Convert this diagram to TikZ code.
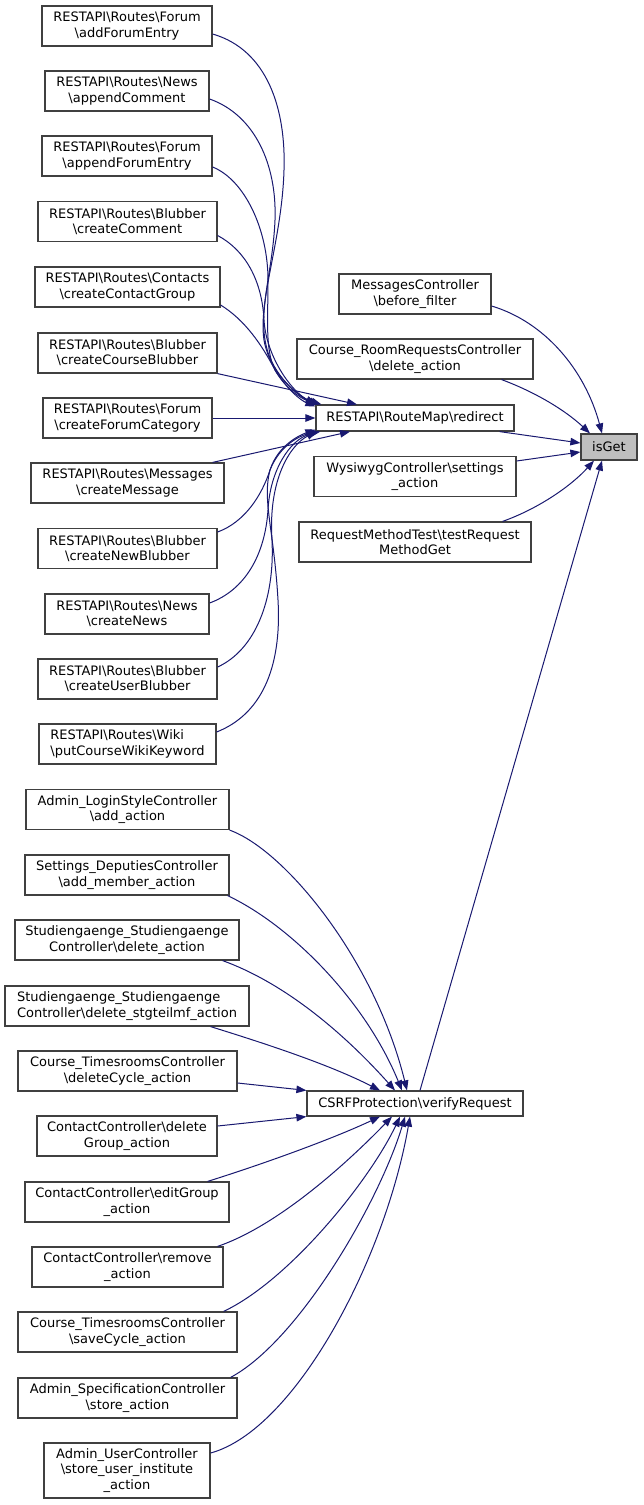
\documentclass[tikz,border=0pt]{standalone}
\usepackage{fontspec}
\setmainfont{DejaVu Sans}
\usetikzlibrary{arrows.meta}
\definecolor{edgeblue}{HTML}{191970}
\definecolor{boxgray}{HTML}{404040}
\definecolor{focusfill}{HTML}{BFBFBF}
\newcommand{\Bsl}{\textbackslash{}}
\tikzset{
  box/.style={draw=boxgray, line width=1.2pt, fill=white, inner sep=0pt, align=center,
    minimum height=40pt, font=\fontsize{13}{15.3}\selectfont},
  lbox/.style={box, align=left},
  sbox/.style={box, minimum height=26pt},
  edge/.style={draw=edgeblue, line width=1pt, -{Triangle[length=10pt,width=7.5pt]}, fill=none}
}
\begin{document}
\begin{tikzpicture}[x=1pt,y=-1pt]
\useasboundingbox[fill=white] (0,0) rectangle (643,1505);
% left group
\node[box, minimum width=170pt] (a1) at (127,26) {RESTAPI\Bsl Routes\Bsl Forum\\\Bsl addForumEntry};
\node[box, minimum width=164pt] (a2) at (127,91) {RESTAPI\Bsl Routes\Bsl News\\\Bsl appendComment};
\node[box, minimum width=170pt] (a3) at (127,156) {RESTAPI\Bsl Routes\Bsl Forum\\\Bsl appendForumEntry};
\node[box, minimum width=179pt] (a4) at (127.5,221.5) {RESTAPI\Bsl Routes\Bsl Blubber\\\Bsl createComment};
\node[box, minimum width=185pt] (a5) at (127.5,287) {RESTAPI\Bsl Routes\Bsl Contacts\\\Bsl createContactGroup};
\node[box, minimum width=179pt] (a6) at (127.5,353) {RESTAPI\Bsl Routes\Bsl Blubber\\\Bsl createCourseBlubber};
\node[box, minimum width=169pt] (a7) at (127.5,418) {RESTAPI\Bsl Routes\Bsl Forum\\\Bsl createForumCategory};
\node[box, minimum width=193pt] (a8) at (127.5,483) {RESTAPI\Bsl Routes\Bsl Messages\\\Bsl createMessage};
\node[box, minimum width=179pt] (a9) at (127.5,548.5) {RESTAPI\Bsl Routes\Bsl Blubber\\\Bsl createNewBlubber};
\node[box, minimum width=164pt] (a10) at (127,614) {RESTAPI\Bsl Routes\Bsl News\\\Bsl createNews};
\node[box, minimum width=179pt] (a11) at (127.5,679) {RESTAPI\Bsl Routes\Bsl Blubber\\\Bsl createUserBlubber};
\node[lbox, minimum width=177pt] (a12) at (127.5,744) {RESTAPI\Bsl Routes\Bsl Wiki\\\Bsl putCourseWikiKeyword};
% middle
\node[box, minimum width=152pt] (m1) at (415,294) {MessagesController\\\Bsl before\_filter};
\node[box, minimum width=236pt] (m2) at (415,359) {Course\_RoomRequestsController\\\Bsl delete\_action};
\node[sbox, minimum width=198pt] (redirect) at (415,418) {RESTAPI\Bsl RouteMap\Bsl redirect};
\node[box, minimum width=202pt] (m3) at (415,476.5) {WysiwygController\Bsl settings\\\_action};
\node[box, minimum width=232pt] (m4) at (415,542) {RequestMethodTest\Bsl testRequest\\MethodGet};
\node[sbox, minimum width=56pt, fill=focusfill] (isGet) at (609,447) {isGet};
% lower
\node[box, minimum width=203pt] (b1) at (127.5,809.5) {Admin\_LoginStyleController\\\Bsl add\_action};
\node[box, minimum width=204pt] (b2) at (127,875) {Settings\_DeputiesController\\\Bsl add\_member\_action};
\node[box, minimum width=224pt] (b3) at (127,940) {Studiengaenge\_Studiengaenge\\Controller\Bsl delete\_action};
\node[lbox, minimum width=244pt] (b4) at (127,1006) {Studiengaenge\_Studiengaenge\\Controller\Bsl delete\_stgteilmf\_action};
\node[box, minimum width=219pt] (b5) at (127.5,1071) {Course\_TimesroomsController\\\Bsl deleteCycle\_action};
\node[box, minimum width=180pt] (b6) at (127,1136) {ContactController\Bsl delete\\Group\_action};
\node[box, minimum width=204pt] (b7) at (127,1202) {ContactController\Bsl editGroup\\\_action};
\node[box, minimum width=191pt] (b8) at (127.5,1267) {ContactController\Bsl remove\\\_action};
\node[box, minimum width=219pt] (b9) at (127.5,1332) {Course\_TimesroomsController\\\Bsl saveCycle\_action};
\node[box, minimum width=219pt] (b10) at (127.5,1398) {Admin\_SpecificationController\\\Bsl store\_action};
\node[box, minimum width=166pt, minimum height=55pt] (b11) at (127,1470.5) {Admin\_UserController\\\Bsl store\_user\_institute\\\_action};
\node[sbox, minimum width=216pt, minimum height=25pt] (csrf) at (415,1103.5) {CSRFProtection\Bsl verifyRequest};
% edges to isGet
\draw[edge] ([yshift=-12pt]m1.east) .. controls (545,322) and (585,370) .. ([xshift=-7pt]isGet.north);
\draw[edge] ([xshift=-32pt]m2.south east) .. controls (535,392) and (565,410) .. ([xshift=-19pt]isGet.north);
\draw[edge] ([xshift=-15pt]redirect.south east) -- ([yshift=4pt]isGet.west);
\draw[edge] ([yshift=15.5pt]m3.east) -- ([yshift=-5pt]isGet.west);
\draw[edge] ([xshift=-29pt]m4.north east) .. controls (540,508) and (572,485) .. ([xshift=-15pt]isGet.south);
\draw[edge] ([xshift=5pt]csrf.north) -- ([xshift=-7pt]isGet.south);
% edges to redirect (top group)
\draw[edge] ([yshift=-8pt]a1.east) .. controls (268,50) and (286,110) .. (284,170)
   .. controls (282,240) and (258,300) .. (264,340) .. controls (270,375) and (300,398) .. ([xshift=6pt]redirect.north west);
\draw[edge] ([yshift=-8pt]a2.east) .. controls (255,115) and (277,165) .. (275,220)
   .. controls (273,270) and (258,310) .. (266,345) .. controls (272,375) and (300,398) .. ([xshift=4pt]redirect.north west);
\draw[edge] ([yshift=-11pt]a3.east) .. controls (245,180) and (268,230) .. (268,280)
   .. controls (268,320) and (265,350) .. (275,370) .. controls (285,388) and (300,398) .. ([xshift=2pt]redirect.north west);
\draw[edge] ([yshift=-14pt]a4.east) .. controls (245,250) and (262,280) .. (264,320)
   .. controls (266,355) and (290,390) .. (redirect.north west);
\draw[edge] ([yshift=-18pt]a5.east) .. controls (245,320) and (262,345) .. (275,370)
   .. controls (288,390) and (300,400) .. ([yshift=-2pt]redirect.north west);
\draw[edge] (a6.south east) -- ([xshift=-58pt]redirect.north);
\draw[edge] (a7.east) -- (redirect.west);
\draw[edge] ([xshift=-12pt]a8.north east) -- ([xshift=-65pt]redirect.south);
% edges to redirect (bottom group)
\draw[edge] ([yshift=16.5pt]a9.east) .. controls (245,522) and (262,495) .. (270,470)
   .. controls (280,445) and (300,435) .. ([xshift=5pt]redirect.south west);
\draw[edge] ([yshift=11pt]a10.east) .. controls (245,590) and (265,555) .. (268,510)
   .. controls (270,470) and (290,440) .. ([xshift=3pt]redirect.south west);
\draw[edge] ([yshift=12pt]a11.east) .. controls (255,650) and (275,600) .. (272,540)
   .. controls (268,480) and (290,445) .. ([xshift=1pt]redirect.south west);
\draw[edge] ([yshift=12pt]a12.east) .. controls (260,715) and (282,670) .. (278,600)
   .. controls (274,530) and (262,500) .. (270,470) .. controls (278,445) and (300,435) .. ([yshift=2pt]redirect.south west);
% edges to CSRF
\draw[edge] (b1.south east) .. controls (285,850) and (375,960) .. ([xshift=-8pt]csrf.north);
\draw[edge] ([xshift=-2pt]b2.south east) .. controls (290,925) and (365,1000) .. ([xshift=-13pt]csrf.north);
\draw[edge] ([xshift=-17pt]b3.south east) .. controls (290,985) and (350,1040) .. ([xshift=-20pt]csrf.north);
\draw[edge] ([xshift=-39pt]b4.south east) .. controls (270,1045) and (330,1065) .. ([xshift=-35pt]csrf.north);
\draw[edge] ([yshift=-12pt]b5.east) -- (csrf.north west);
\draw[edge] ([yshift=10pt]b6.east) -- (csrf.south west);
\draw[edge] ([xshift=-22pt]b7.north east) .. controls (260,1165) and (330,1140) .. ([xshift=-35pt]csrf.south);
\draw[edge] ([xshift=-6pt]b8.north east) .. controls (280,1225) and (350,1160) .. ([xshift=-23pt]csrf.south);
\draw[edge] ([xshift=-14pt]b9.north east) .. controls (290,1280) and (370,1180) .. ([xshift=-15pt]csrf.south);
\draw[edge] ([xshift=-7pt]b10.north east) .. controls (300,1340) and (380,1200) .. ([xshift=-10pt]csrf.south);
\draw[edge] ([yshift=17.5pt]b11.east) .. controls (295,1430) and (385,1260) .. ([xshift=-5pt]csrf.south);
\end{tikzpicture}
\end{document}
